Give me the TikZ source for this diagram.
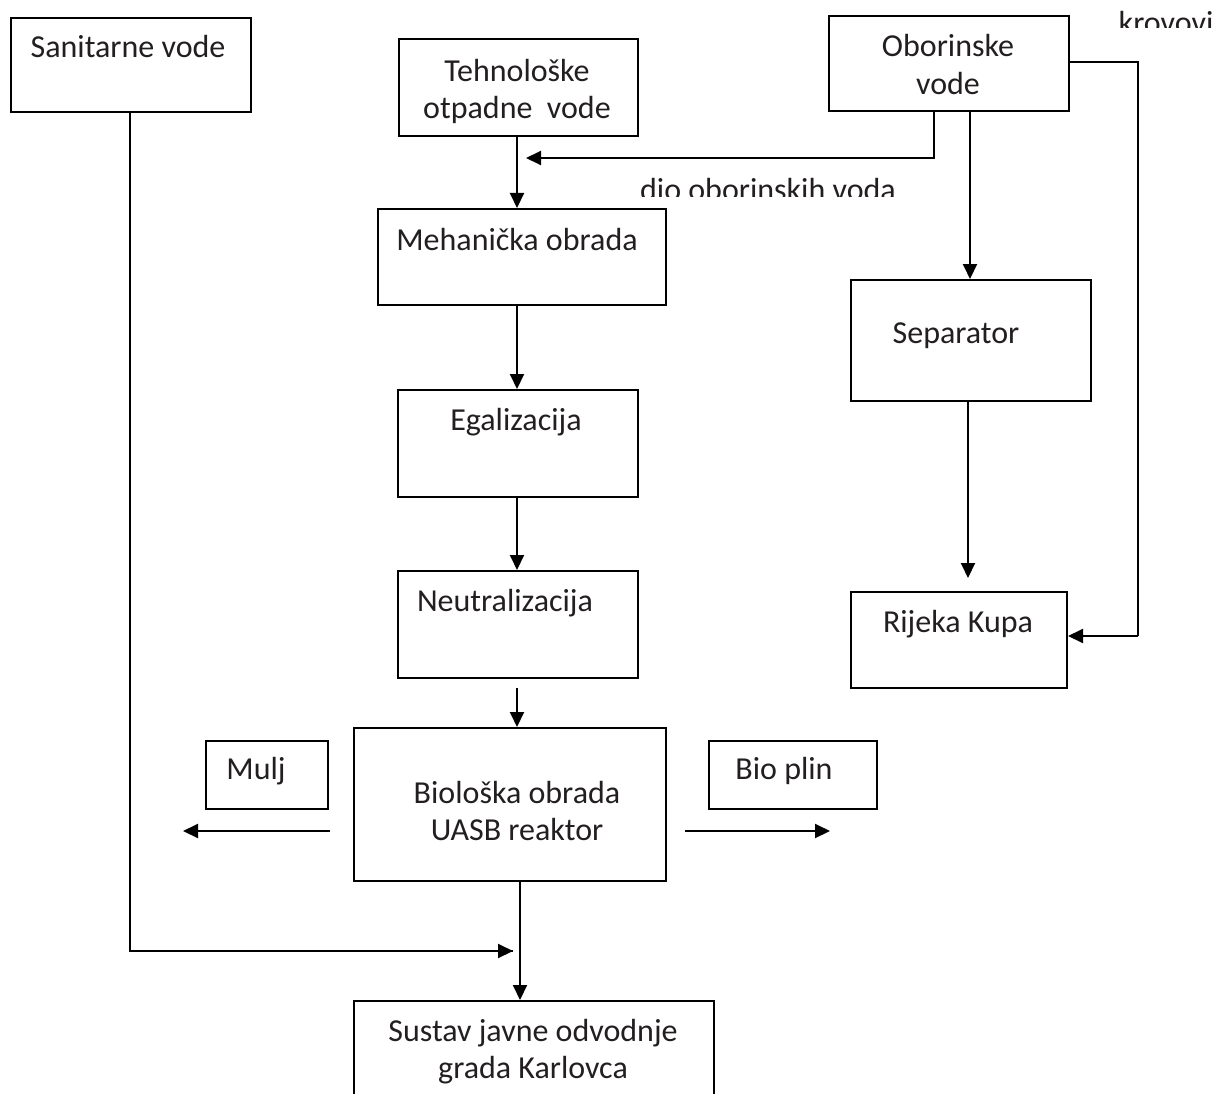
\documentclass[tikz,border=0pt]{standalone}
\usepackage{fontspec}
\setmainfont{Carlito}
\usetikzlibrary{arrows.meta,calc}
\definecolor{txt}{HTML}{231F20}
\begin{document}
\begin{tikzpicture}[x=1pt,y=-1pt,
  box/.style={draw=black,line width=2pt,anchor=north west,inner sep=0pt},
  lbl/.style={anchor=base,inner sep=0pt,text=txt,font=\fontsize{32}{37}\selectfont},
  arr/.style={line width=2pt,-{Triangle[length=15pt,width=14pt]}},
  ln/.style={line width=2pt},
  thin/.style={line width=1.2pt}]
\useasboundingbox (0,0) rectangle (1226,1094);
\fill[white] (0,0) rectangle (1226,1094);
% boxes
\node[box,minimum width=240pt,minimum height=94pt] (san) at (10,17) {};
\node[box,minimum width=239pt,minimum height=97pt] (teh) at (398,38) {};
\node[box,minimum width=240pt,minimum height=95pt] (obo) at (828,15) {};
\node[box,minimum width=288pt,minimum height=96pt] (meh) at (377,208) {};
\node[box,minimum width=240pt,minimum height=107pt] (ega) at (397,389) {};
\node[box,minimum width=240pt,minimum height=107pt] (neu) at (397,570) {};
\node[box,minimum width=240pt,minimum height=121pt] (sep) at (850,279) {};
\node[box,minimum width=216pt,minimum height=96pt] (kup) at (850,591) {};
\node[box,minimum width=122pt,minimum height=68pt] (mul) at (205,740) {};
\node[box,minimum width=168pt,minimum height=68pt] (bio) at (708,740) {};
\node[box,minimum width=312pt,minimum height=153pt] (uasb) at (353,727) {};
\node[box,minimum width=360pt,minimum height=120pt] (sus) at (353,1000) {};
% texts
\node[lbl] (tsan) at (128,58) {Sanitarne vode};
\node[lbl] (tteh1) at (517,82) {Tehnološke};
\node[lbl] (tteh2) at (517,119) {otpadne\ \ vode};
\node[lbl] (tobo1) at (948,57) {Oborinske};
\node[lbl] (tobo2) at (948,95) {vode};
\node[lbl] (tmeh) at (517,251) {Mehanička obrada};
\node[lbl] (tega) at (516,430) {Egalizacija};
\node[lbl] (tneu) at (505,611) {Neutralizacija};
\node[lbl] (tsep) at (956,343) {Separator};
\node[lbl] (tkup) at (958,632) {Rijeka Kupa};
\node[lbl] (tmul) at (256,779) {Mulj};
\node[lbl] (tbio) at (784,779) {Bio plin};
\node[lbl] (tua1) at (517,803) {Biološka obrada};
\node[lbl] (tua2) at (517,840) {UASB reaktor};
\node[lbl] (tsu1) at (533,1041) {Sustav javne odvodnje};
\node[lbl] (tsu2) at (533,1078) {grada Karlovca};
\begin{scope}
\clip (600,160) rectangle (940,197);
\node[lbl] (tdio) at (768,201) {dio oborinskih voda};
\end{scope}
\begin{scope}
\clip (1100,0) rectangle (1226,28);
\node[lbl] (tkro) at (1166,34) {krovovi};
\end{scope}
% coordinates
\coordinate (sanj) at (130,951);
\coordinate (sanend) at (513,951);
\coordinate (o1) at (934,158);
\coordinate (o2) at (620,158);
\coordinate (o3) at (526,158);
\coordinate (r1) at (1138,62);
\coordinate (r2) at (1138,636);
\coordinate (ml) at (330,831);
\coordinate (mle) at (183,831);
\coordinate (br) at (685,831);
\coordinate (bre) at (830,831);
% connectors
\draw[ln] (san.south -| 130,0) -- (sanj) -- (sanend);
\draw[arr] ($(sanend)+(-2,0)$) -- (sanend);
\draw[arr] (teh.south -| 517,0) -- (meh.north -| 517,0);
\draw[thin] (obo.south -| o1) -- (o1) -- (o2);
\draw[arr] (o2) -- (o3);
\draw[arr] (obo.south -| 970,0) -- (sep.north -| 970,0);
\draw[ln] (obo.east |- r1) -- (r1) -- (r2);
\draw[arr] (r2) -- (kup.east |- r2);
\draw[arr] (sep.south -| 968,0) -- (968,578);
\draw[arr] (meh.south -| 517,0) -- (ega.north -| 517,0);
\draw[arr] (ega.south -| 517,0) -- (neu.north -| 517,0);
\draw[arr] (517,688) -- (uasb.north -| 517,0);
\draw[arr] (ml) -- (mle);
\draw[arr] (br) -- (bre);
\draw[arr] (uasb.south -| 520,0) -- (sus.north -| 520,0);
\end{tikzpicture}
\end{document}
